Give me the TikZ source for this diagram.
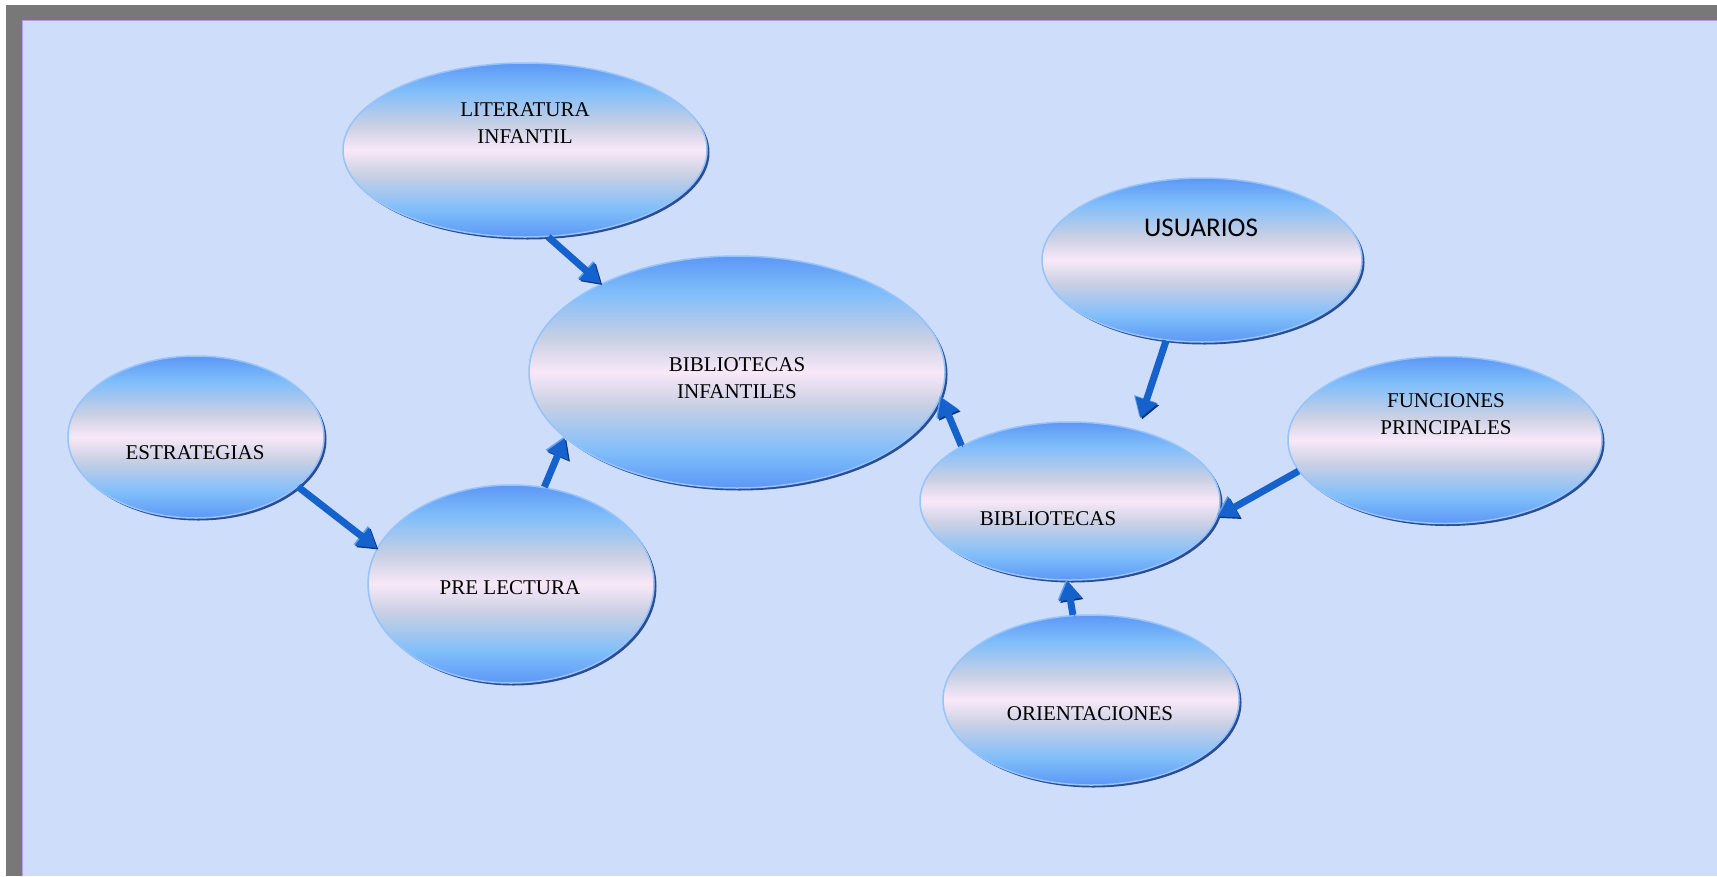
\documentclass[tikz,border=0pt]{standalone}
\usepackage{fontspec}
\setmainfont{Liberation Serif}
\newfontfamily\usuariosfont{Carlito}
\usetikzlibrary{shapes.geometric,arrows.meta,shadows}

\definecolor{fondo}{RGB}{206,221,249}
\definecolor{marco}{RGB}{120,120,120}
\definecolor{lila}{RGB}{182,152,236}
\definecolor{azulA}{RGB}{92,152,246}
\definecolor{azulB}{RGB}{128,190,250}
\definecolor{gris}{RGB}{202,208,228}
\definecolor{rosa}{RGB}{248,232,248}
\definecolor{borde}{RGB}{150,195,250}
\definecolor{sombra}{RGB}{42,78,150}
\definecolor{flecha}{RGB}{22,98,205}
\definecolor{flechaclara}{RGB}{100,160,232}
\definecolor{flechaoscura}{RGB}{12,52,132}

\pgfdeclareverticalshading{burbujaazul}{100bp}{color(0bp)=(azulA); color(25bp)=(azulA);
  color(33bp)=(azulB); color(43bp)=(gris); color(50bp)=(rosa); color(57bp)=(gris);
  color(67bp)=(azulB); color(75bp)=(azulA); color(100bp)=(azulA)}

\tikzset{
  burbuja/.style={ellipse, shading=burbujaazul, draw=borde, line width=1.5pt, inner sep=0pt,
    drop shadow={shadow xshift=2.5pt, shadow yshift=-2.5pt, fill=sombra, opacity=1}},
  texto/.style={align=center, font=\fontsize{21}{27}\selectfont},
  flechas/.style={-{Triangle[width=22pt,length=19pt]}, line width=7pt, draw=flecha,
    preaction={draw=flechaoscura, transform canvas={xshift=1.5pt,yshift=-1.5pt}},
    preaction={draw=flechaclara, transform canvas={xshift=-1.2pt,yshift=1.2pt}}}
}

\begin{document}
\begin{tikzpicture}[x=1pt,y=-1pt]
\useasboundingbox (0,0) rectangle (1717,876);
\fill[white] (0,0) rectangle (1717,876);
\fill[marco] (6,5) rectangle (1717,876);
\fill[fondo] (22,20) rectangle (1717,876);
\draw[lila, line width=1pt] (22,876) -- (22,20) -- (1717,20);

\node[burbuja, minimum width=364pt, minimum height=174pt] (lit) at (525,150) {};
\node[burbuja, minimum width=416pt, minimum height=232pt] (binf) at (737,372) {};
\node[burbuja, minimum width=320pt, minimum height=164pt] (usu) at (1202,260) {};
\node[burbuja, minimum width=314pt, minimum height=167pt] (fun) at (1445,440) {};
\node[burbuja, minimum width=300pt, minimum height=158pt] (bib) at (1070,501) {};
\node[burbuja, minimum width=296pt, minimum height=170pt] (ori) at (1091,700) {};
\node[burbuja, minimum width=256pt, minimum height=162pt] (est) at (196,437) {};
\node[burbuja, minimum width=286pt, minimum height=198pt] (pre) at (511,584) {};

\node[texto] (lit-t) at (525,123) {LITERATURA\\INFANTIL};
\node[texto] (binf-t) at (737,378) {BIBLIOTECAS\\INFANTILES};
\node[texto, font=\usuariosfont\fontsize{27}{30}\selectfont] (usu-t) at (1201,228) {USUARIOS};
\node[texto] (fun-t) at (1446,414) {FUNCIONES\\PRINCIPALES};
\node[texto] (bib-t) at (1048,519) {BIBLIOTECAS};
\node[texto] (ori-t) at (1090,714) {ORIENTACIONES};
\node[texto] (est-t) at (195,453) {ESTRATEGIAS};
\node[texto] (pre-t) at (510,588) {PRE LECTURA};

\draw[flechas] (lit.-75) -- (binf.147);
\draw[flechas] (est.-26) -- (pre.165);
\draw[flechas] (pre.71) -- (binf.201);
\draw[flechas] (bib.153) -- (binf.-7);
\draw[flechas, shorten >=12pt] (usu.246) -- (bib.47);
\draw[flechas] (fun.192) -- (bib.-6.5);
\draw[flechas] (ori.102) -- (bib.-92);
\end{tikzpicture}
\end{document}
